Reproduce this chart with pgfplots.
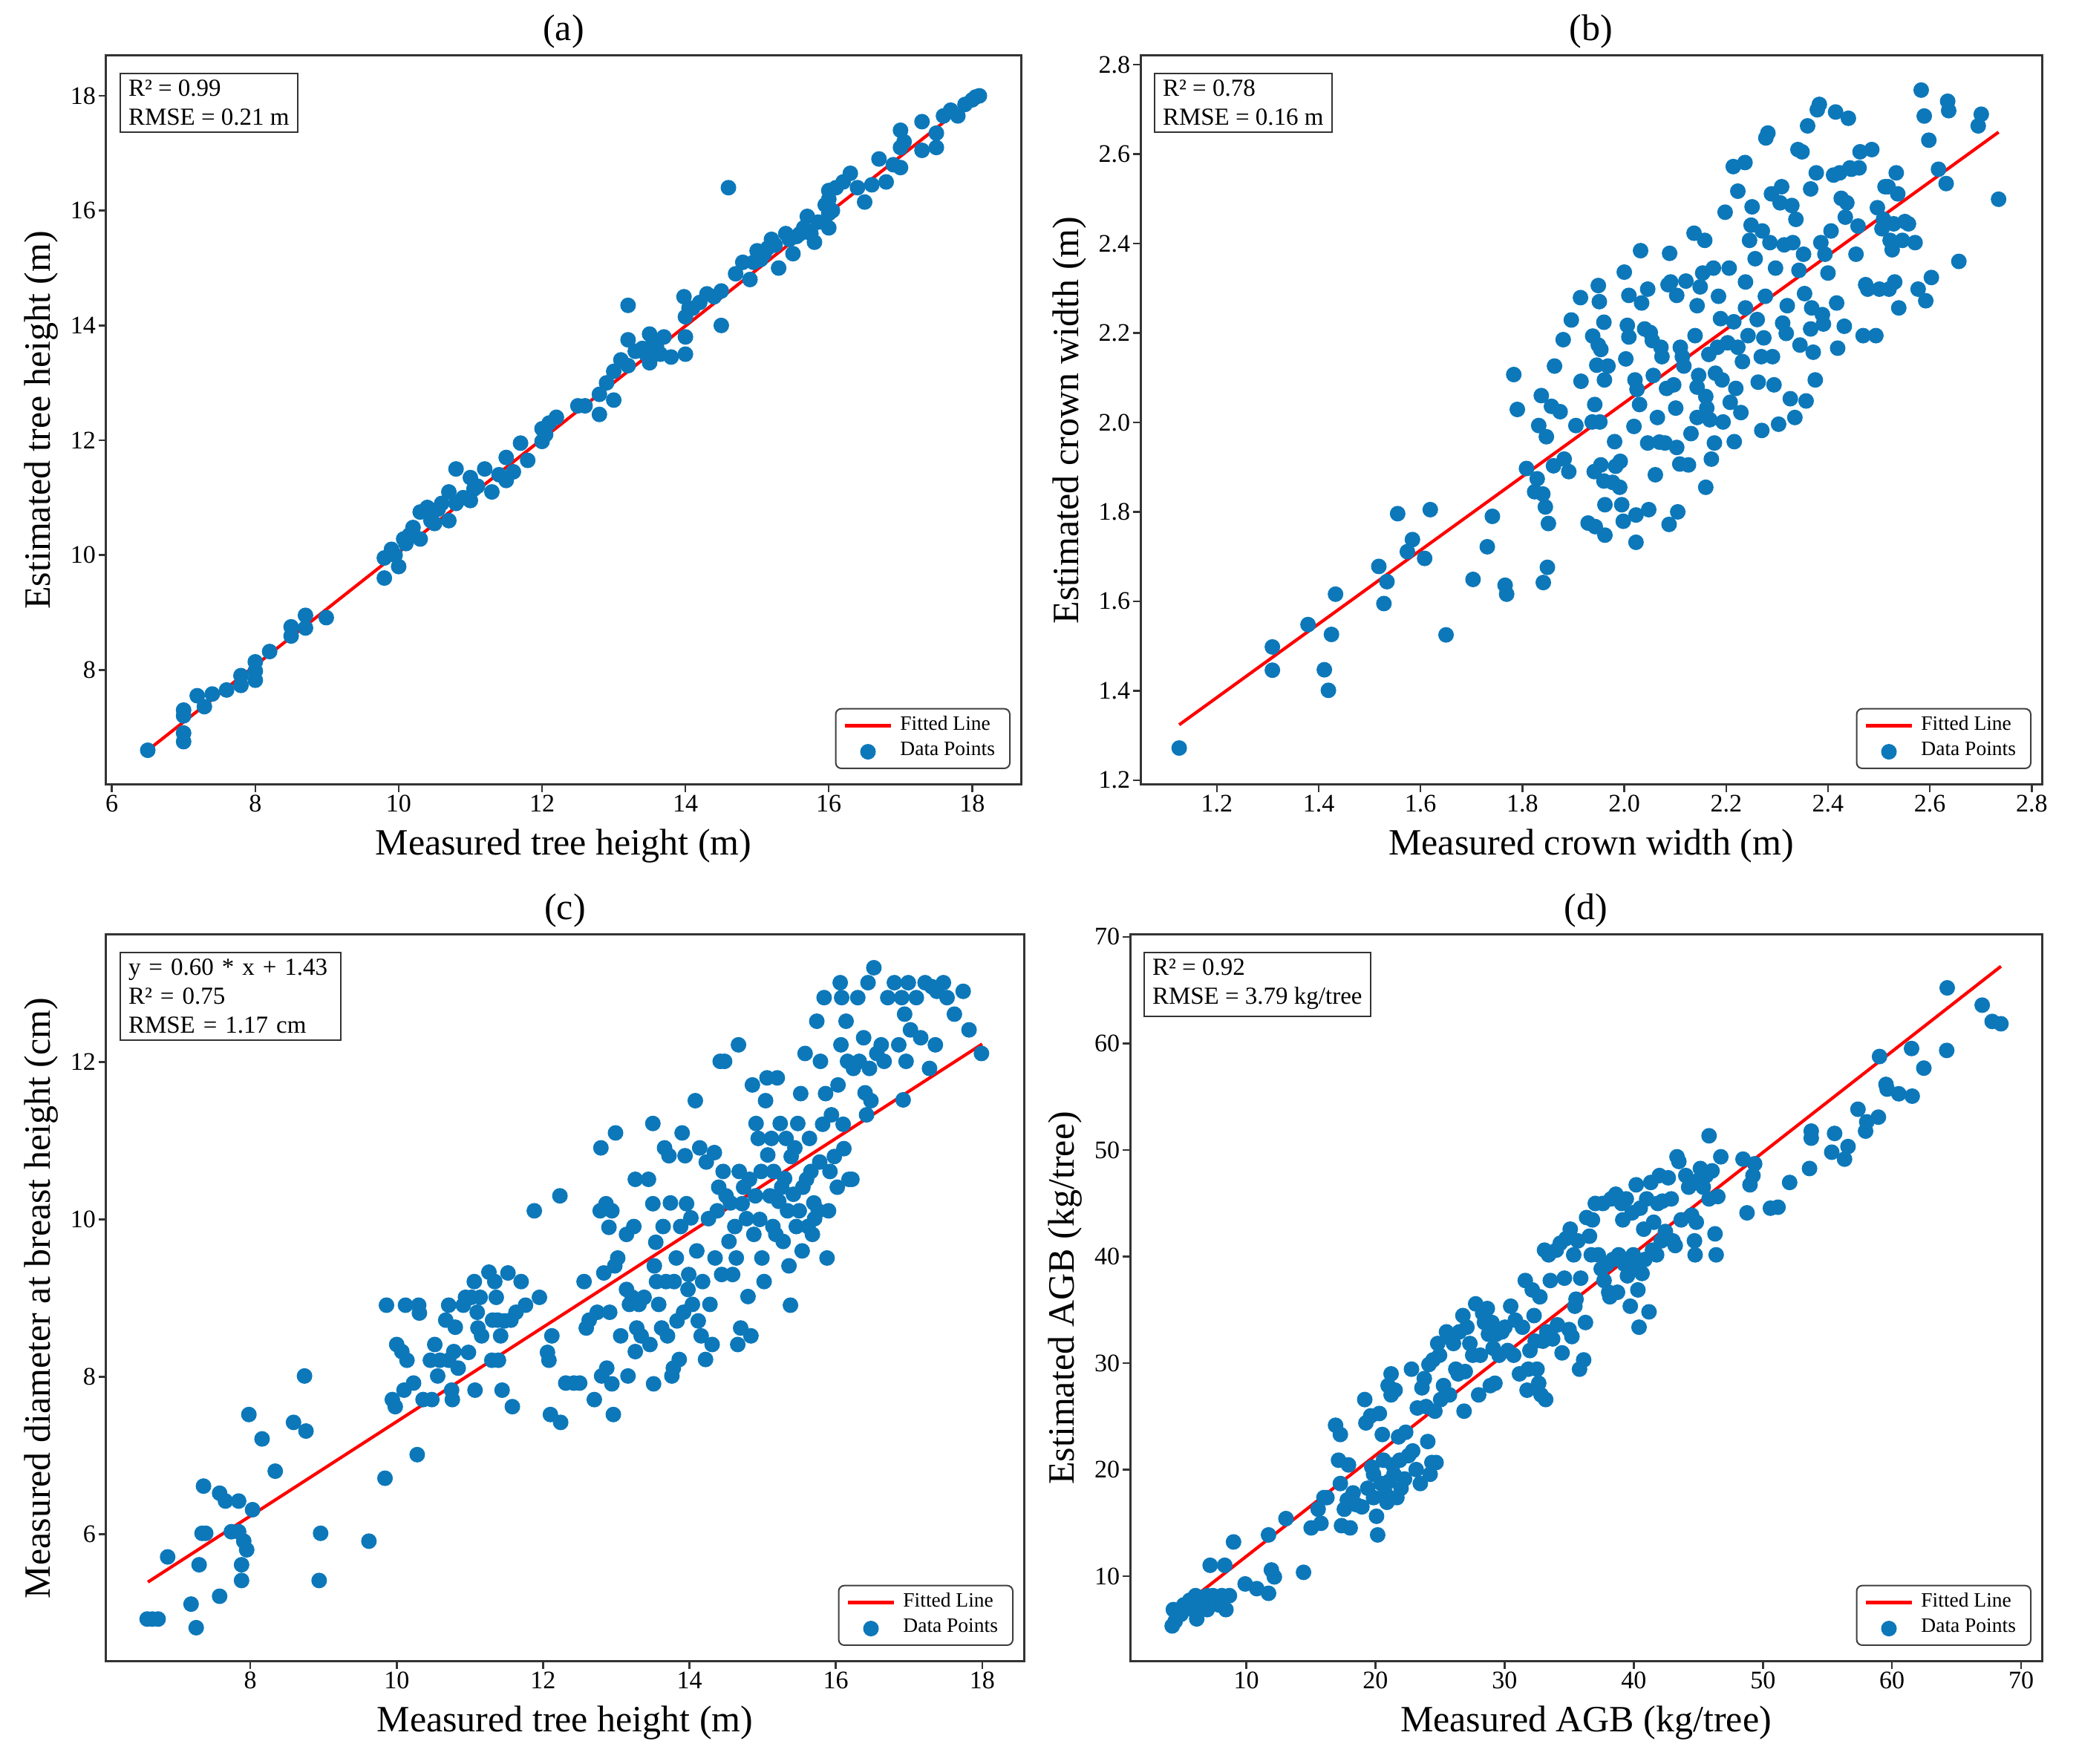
\documentclass[border=0pt]{standalone}
\usepackage{fontspec}
\setmainfont{Liberation Serif}
\usepackage{pgfplots}
\pgfplotsset{compat=1.18}
\definecolor{ptblue}{RGB}{12,120,186}
\pgfplotsset{
  panel/.style={
    scale only axis,
    axis line style={black!80, line width=0.6pt},
    tick style={black!80, line width=0.5pt},
    tick align=outside, major tick length=2pt,
    xtick pos=bottom, ytick pos=left,
    tick label style={font=\fontsize{6.8}{8}\selectfont, inner sep=0.6pt},
    /pgf/number format/assume math mode=true,
    label style={font=\fontsize{10}{12}\selectfont},
    xlabel style={yshift=-0.5pt},
    ylabel style={yshift=-0.8pt},
    every axis title/.style={font=\fontsize{10}{12}\selectfont, at={(0.5,1)}, anchor=south, inner sep=0pt, yshift=1.8pt},
    reverse legend,
    legend cell align=left,
    legend style={at={(1,0)}, anchor=south east, xshift=-2.8pt, yshift=4.2pt,
      draw=black!75, rounded corners=1.5pt, font=\fontsize{5.5}{6.5}\selectfont,
      inner xsep=2pt, inner ysep=1pt, row sep=0pt, nodes={inner ysep=0.9pt}},
  },
  pts/.style={only marks, mark=*, mark size=1.9pt, color=ptblue, mark options={draw=ptblue, fill=ptblue},
    legend image code/.code={\draw[mark repeat=2,mark phase=2,##1] plot coordinates {(0cm,0cm) (0.22cm,0cm) (0.44cm,0cm)};}},
  fit/.style={red, line width=0.85pt, no marks,
    legend image code/.code={\draw[##1] (0cm,0cm) -- (0.44cm,0cm);}},
}
\tikzset{
  infobox/.style={draw=black!80, anchor=north west, align=left, fill=white,
    font=\fontsize{6.6}{7.8}\selectfont, inner xsep=2.2pt, inner ysep=1.8pt, xshift=3.6pt, yshift=-4.6pt},
}
\begin{document}
\begin{tikzpicture}
\path[use as bounding box] (0,0) rectangle (560pt,475.2pt);
% (a)
\begin{axis}[panel, at={(28.6pt,263.8pt)}, anchor=south west, width=246.4pt, height=196.4pt,
  xmin=5.92, xmax=18.68, ymin=6.0, ymax=18.7,
  xtick={6,8,10,12,14,16,18}, ytick={8,10,12,14,16,18},
  title={(a)}, xlabel={Measured tree height (m)}, ylabel={Estimated tree height (m)}]
\addplot[pts] coordinates {(6.5,6.6)(7.0,7.3)(7.0,7.2)(7.0,6.9)(7.0,6.75)(7.19,7.55)(7.29,7.36)(7.4,7.58)(7.6,7.65)(7.8,7.9)(7.8,7.73)(8.0,8.14)(8.0,7.82)(8.0,7.98)(8.2,8.32)(8.5,8.75)(8.5,8.59)(8.7,8.95)(8.7,8.73)(8.99,8.91)(9.8,9.95)(9.8,9.6)(9.9,10.1)(10.0,9.8)(9.95,10.0)(10.07,10.28)(10.1,10.2)(10.15,10.35)(10.2,10.48)(10.3,10.75)(10.3,10.28)(10.4,10.83)(10.45,10.6)(10.5,10.55)(10.55,10.8)(10.6,10.9)(10.7,10.6)(10.7,11.1)(10.8,11.5)(10.8,10.9)(10.9,11.0)(11.0,11.35)(11.0,10.95)(11.05,11.15)(11.1,11.2)(11.2,11.5)(11.3,11.1)(11.4,11.4)(11.5,11.7)(11.5,11.3)(11.6,11.45)(11.7,11.95)(11.8,11.65)(12.0,11.98)(12.0,12.2)(12.05,12.1)(12.1,12.3)(12.2,12.4)(12.5,12.6)(12.6,12.6)(12.8,12.45)(12.8,12.8)(12.9,13.0)(13.0,13.2)(13.0,12.7)(13.1,13.4)(13.2,14.35)(13.2,13.75)(13.2,13.3)(13.3,13.55)(13.4,13.6)(13.45,13.5)(13.5,13.85)(13.5,13.35)(13.55,13.75)(13.6,13.6)(13.65,13.5)(13.7,13.8)(13.8,13.45)(13.98,14.5)(14.0,14.15)(14.0,13.8)(14.0,13.5)(14.05,14.3)(14.1,14.3)(14.2,14.4)(14.3,14.55)(14.4,14.5)(14.5,14.0)(14.5,14.6)(14.6,16.4)(14.7,14.9)(14.8,15.1)(14.9,14.8)(14.95,15.1)(15.0,15.3)(15.05,15.15)(15.1,15.25)(15.15,15.35)(15.2,15.5)(15.25,15.4)(15.3,15.0)(15.4,15.6)(15.45,15.5)(15.5,15.25)(15.55,15.55)(15.6,15.6)(15.65,15.7)(15.7,15.9)(15.75,15.6)(15.8,15.45)(15.85,15.8)(15.95,16.1)(16.0,16.35)(16.0,16.2)(16.0,15.95)(16.0,15.7)(16.05,16.0)(16.1,16.4)(16.2,16.5)(16.3,16.65)(16.4,16.4)(16.5,16.15)(16.6,16.45)(16.7,16.9)(16.8,16.5)(16.9,16.8)(17.0,17.4)(17.0,17.1)(17.0,16.75)(17.05,17.2)(17.3,17.55)(17.3,17.05)(17.5,17.35)(17.5,17.1)(17.6,17.65)(17.7,17.75)(17.8,17.65)(17.9,17.85)(18.0,17.93)(18.05,17.98)(18.1,18.0)};
\addlegendentry{Data Points}
\addplot[fit] coordinates {(6.5,6.6)(18.1,18.03)};
\addlegendentry{Fitted Line}
\node[infobox] at (rel axis cs:0,1) {R² = 0.99\\RMSE = 0.21 m};
\end{axis}
% (b)
\begin{axis}[panel, at={(307.2pt,263.8pt)}, anchor=south west, width=242.8pt, height=196.4pt,
  xmin=1.05, xmax=2.82, ymin=1.19, ymax=2.82,
  xtick={1.2,1.4,1.6,1.8,2.0,2.2,2.4,2.6,2.8}, ytick={1.2,1.4,1.6,1.8,2.0,2.2,2.4,2.6,2.8},
  xticklabel style={/pgf/number format/.cd, fixed, fixed zerofill, precision=1},
  yticklabel style={/pgf/number format/.cd, fixed, fixed zerofill, precision=1},
  title={(b)}, xlabel={Measured crown width (m)}, ylabel={Estimated crown width (m)}]
\addplot[pts] coordinates {(1.126,1.272)(1.309,1.498)(1.309,1.446)(1.379,1.548)(1.411,1.447)(1.419,1.401)(1.425,1.526)(1.433,1.616)(1.518,1.678)(1.528,1.595)(1.534,1.644)(1.555,1.796)(1.574,1.711)(1.584,1.738)(1.608,1.696)(1.619,1.805)(1.650,1.525)(1.703,1.649)(1.731,1.722)(1.741,1.790)(1.766,1.636)(1.769,1.616)(1.783,2.107)(1.790,2.029)(1.808,1.897)(1.829,1.874)(1.824,1.845)(1.840,1.840)(1.845,1.811)(1.841,1.642)(1.849,1.676)(1.851,1.774)(1.832,1.993)(1.837,2.060)(1.847,1.968)(1.857,2.036)(1.863,2.126)(1.861,1.903)(1.874,2.024)(1.880,2.185)(1.882,1.918)(1.891,1.890)(1.896,2.229)(1.905,1.993)(1.914,2.279)(1.915,2.092)(1.929,1.775)(1.943,1.767)(1.941,1.890)(1.942,2.040)(1.949,2.306)(1.951,2.270)(1.954,1.905)(1.960,2.224)(1.962,1.748)(1.962,1.816)(1.961,2.095)(1.938,2.193)(1.949,2.173)(1.954,2.163)(1.946,2.128)(1.937,2.001)(1.952,2.001)(1.960,1.869)(1.968,2.126)(1.977,1.866)(1.981,1.957)(1.983,1.902)(1.991,1.855)(1.992,1.913)(1.998,1.779)(1.995,1.816)(2.000,2.336)(2.003,2.142)(2.009,2.191)(2.009,2.284)(2.006,2.217)(2.019,1.991)(2.023,1.732)(2.023,1.793)(2.021,2.095)(2.025,2.074)(2.030,2.040)(2.032,2.384)(2.034,2.267)(2.040,2.209)(2.046,2.298)(2.046,1.954)(2.048,1.805)(2.051,2.201)(2.055,2.183)(2.057,2.105)(2.061,1.883)(2.065,2.011)(2.069,1.956)(2.072,2.168)(2.074,2.147)(2.080,1.954)(2.083,2.076)(2.086,2.308)(2.088,1.772)(2.089,2.378)(2.091,2.314)(2.097,2.084)(2.101,2.032)(2.103,1.944)(2.103,2.284)(2.105,1.800)(2.109,1.907)(2.110,2.168)(2.114,2.147)(2.117,2.126)(2.121,2.316)(2.126,1.905)(2.131,1.975)(2.137,2.423)(2.139,2.194)(2.143,2.261)(2.143,2.079)(2.143,2.011)(2.146,2.105)(2.149,2.303)(2.154,2.334)(2.158,2.407)(2.160,1.855)(2.160,2.058)(2.162,2.032)(2.166,2.152)(2.168,2.006)(2.171,1.918)(2.175,2.345)(2.177,1.954)(2.179,2.110)(2.183,2.168)(2.185,2.282)(2.189,2.232)(2.192,2.095)(2.194,2.001)(2.198,2.470)(2.203,2.178)(2.206,2.345)(2.208,2.045)(2.214,2.572)(2.216,1.957)(2.215,2.225)(2.219,2.076)(2.223,2.517)(2.223,2.168)(2.229,2.022)(2.232,2.136)(2.237,2.581)(2.238,2.314)(2.238,2.256)(2.243,2.194)(2.246,2.407)(2.249,2.441)(2.251,2.482)(2.257,2.366)(2.261,2.230)(2.263,2.090)(2.269,2.147)(2.270,1.982)(2.271,2.428)(2.274,2.189)(2.277,2.282)(2.278,2.636)(2.282,2.647)(2.286,2.402)(2.289,2.511)(2.291,2.147)(2.294,2.084)(2.297,2.345)(2.303,1.996)(2.306,2.491)(2.309,2.527)(2.311,2.222)(2.314,2.397)(2.318,2.199)(2.320,2.261)(2.326,2.053)(2.329,2.485)(2.331,2.402)(2.335,2.011)(2.337,2.454)(2.341,2.610)(2.343,2.340)(2.345,2.173)(2.349,2.605)(2.352,2.376)(2.354,2.288)(2.357,2.048)(2.360,2.663)(2.366,2.522)(2.366,2.209)(2.368,2.256)(2.371,2.157)(2.375,2.095)(2.377,2.558)(2.379,2.699)(2.383,2.711)(2.386,2.402)(2.389,2.241)(2.391,2.220)(2.394,2.376)(2.400,2.334)(2.406,2.428)(2.411,2.553)(2.415,2.694)(2.417,2.267)(2.419,2.166)(2.423,2.558)(2.426,2.501)(2.432,2.215)(2.434,2.459)(2.437,2.491)(2.440,2.680)(2.443,2.569)(2.446,2.566)(2.455,2.376)(2.459,2.439)(2.461,2.569)(2.463,2.605)(2.469,2.194)(2.474,2.308)(2.478,2.298)(2.486,2.610)(2.494,2.194)(2.497,2.480)(2.501,2.298)(2.506,2.433)(2.509,2.454)(2.512,2.527)(2.518,2.527)(2.520,2.298)(2.522,2.407)(2.526,2.386)(2.529,2.444)(2.531,2.314)(2.534,2.558)(2.537,2.511)(2.539,2.256)(2.546,2.407)(2.551,2.449)(2.558,2.444)(2.571,2.402)(2.577,2.298)(2.583,2.743)(2.589,2.685)(2.592,2.272)(2.598,2.631)(2.603,2.324)(2.617,2.566)(2.632,2.534)(2.635,2.718)(2.637,2.697)(2.657,2.360)(2.695,2.663)(2.701,2.689)(2.735,2.499)};
\addlegendentry{Data Points}
\addplot[fit] coordinates {(1.126,1.324)(2.735,2.649)};
\addlegendentry{Fitted Line}
\node[infobox] at (rel axis cs:0,1) {R² = 0.78\\RMSE = 0.16 m};
\end{axis}
% (c)
\begin{axis}[panel, at={(28.6pt,27.6pt)}, anchor=south west, width=247.2pt, height=195.8pt,
  xmin=6.03, xmax=18.57, ymin=4.38, ymax=13.62,
  xtick={8,10,12,14,16,18}, ytick={6,8,10,12},
  title={(c)}, xlabel={Measured tree height (m)}, ylabel={Measured diameter at breast height (cm)}]
\addplot[pts] coordinates {(6.59,4.92)(6.66,4.92)(6.74,4.92)(6.87,5.71)(7.19,5.11)(7.26,4.81)(7.30,5.61)(7.34,6.01)(7.36,6.61)(7.39,6.01)(7.58,6.52)(7.58,5.21)(7.66,6.42)(7.74,6.03)(7.84,6.42)(7.84,6.03)(7.88,5.61)(7.88,5.41)(7.91,5.91)(7.95,5.80)(7.98,7.52)(8.03,6.31)(8.16,7.21)(8.34,6.80)(8.59,7.42)(8.74,8.01)(8.76,7.31)(8.94,5.41)(8.96,6.01)(9.62,5.91)(9.84,6.71)(9.86,8.91)(9.94,7.71)(9.98,7.62)(10.0,8.41)(10.07,8.32)(10.10,7.83)(10.12,8.91)(10.14,8.21)(10.23,7.92)(10.28,7.01)(10.30,8.91)(10.31,8.81)(10.36,7.71)(10.46,8.21)(10.48,7.71)(10.52,8.41)(10.56,8.01)(10.59,8.21)(10.67,8.72)(10.71,8.91)(10.71,8.21)(10.75,7.83)(10.76,7.71)(10.78,8.32)(10.80,8.63)(10.84,8.11)(10.91,8.91)(10.94,9.01)(10.98,8.31)(11.02,9.01)(11.06,9.21)(11.07,7.83)(11.10,8.82)(11.11,8.62)(11.14,9.01)(11.16,8.52)(11.26,9.33)(11.30,8.21)(11.31,8.72)(11.34,9.21)(11.36,9.01)(11.38,8.72)(11.39,8.21)(11.42,8.52)(11.44,7.83)(11.47,8.71)(11.52,9.32)(11.56,8.72)(11.58,7.62)(11.63,8.82)(11.70,9.21)(11.76,8.91)(11.88,10.11)(11.95,9.01)(12.06,8.31)(12.08,8.21)(12.10,7.52)(12.12,8.52)(12.23,10.30)(12.24,7.42)(12.31,7.92)(12.42,7.92)(12.50,7.92)(12.56,9.21)(12.59,8.62)(12.63,8.72)(12.70,7.71)(12.74,8.82)(12.78,10.11)(12.79,10.91)(12.80,8.01)(12.83,9.32)(12.86,10.20)(12.87,8.11)(12.90,9.90)(12.91,8.82)(12.94,7.91)(12.94,10.11)(12.96,7.52)(12.98,9.41)(12.99,11.10)(13.02,9.51)(13.06,8.52)(13.14,9.81)(13.14,9.11)(13.16,8.01)(13.18,8.92)(13.22,9.01)(13.24,9.91)(13.26,8.32)(13.26,10.51)(13.28,8.62)(13.31,8.92)(13.34,8.52)(13.38,9.01)(13.44,10.51)(13.46,8.41)(13.50,10.20)(13.50,11.22)(13.51,7.91)(13.52,9.41)(13.54,9.71)(13.55,9.21)(13.58,8.92)(13.62,8.62)(13.64,9.91)(13.66,10.91)(13.68,9.21)(13.70,8.52)(13.72,10.81)(13.74,10.21)(13.76,8.01)(13.78,8.11)(13.79,9.21)(13.82,9.51)(13.83,8.71)(13.86,8.22)(13.88,9.91)(13.90,11.10)(13.92,8.82)(13.94,10.81)(13.96,10.20)(13.98,9.11)(13.99,9.30)(14.02,10.02)(14.04,8.92)(14.08,11.51)(14.10,9.60)(14.12,8.71)(14.14,10.91)(14.16,8.52)(14.18,9.21)(14.22,8.22)(14.23,10.73)(14.26,10.01)(14.28,8.92)(14.31,8.41)(14.34,10.85)(14.35,9.51)(14.38,10.11)(14.40,10.41)(14.42,12.01)(14.44,9.30)(14.46,10.61)(14.48,12.01)(14.50,10.30)(14.54,9.72)(14.56,10.21)(14.59,9.30)(14.62,9.91)(14.64,9.51)(14.66,8.41)(14.67,12.22)(14.68,10.61)(14.70,8.62)(14.72,10.20)(14.74,10.41)(14.78,10.01)(14.80,9.02)(14.82,10.51)(14.84,8.52)(14.86,11.71)(14.88,9.81)(14.90,10.30)(14.91,11.22)(14.94,11.03)(14.96,10.00)(14.98,10.61)(14.99,9.51)(15.02,9.21)(15.04,11.51)(15.06,11.80)(15.07,10.82)(15.10,10.30)(15.12,11.03)(15.14,9.91)(15.15,10.61)(15.18,9.81)(15.20,11.80)(15.22,10.23)(15.24,11.22)(15.26,10.41)(15.28,9.72)(15.30,10.52)(15.32,11.03)(15.34,10.11)(15.36,9.41)(15.38,8.91)(15.39,10.80)(15.42,10.32)(15.44,10.91)(15.46,9.91)(15.48,11.22)(15.50,10.11)(15.52,11.60)(15.54,9.60)(15.55,10.41)(15.58,12.11)(15.60,10.51)(15.62,9.91)(15.64,11.03)(15.66,10.61)(15.68,9.81)(15.70,10.21)(15.71,10.01)(15.74,12.52)(15.76,10.11)(15.78,10.73)(15.79,12.01)(15.82,11.21)(15.84,12.82)(15.86,11.60)(15.88,9.51)(15.90,10.11)(15.92,10.61)(15.94,11.33)(15.98,10.80)(16.02,10.41)(16.03,11.71)(16.06,13.01)(16.07,12.22)(16.08,12.82)(16.10,11.21)(16.11,10.90)(16.14,12.52)(16.16,12.01)(16.18,10.51)(16.22,10.51)(16.24,11.92)(16.30,12.82)(16.32,12.01)(16.38,12.31)(16.40,11.61)(16.42,11.33)(16.44,13.01)(16.46,11.92)(16.48,11.51)(16.52,13.20)(16.56,12.11)(16.62,12.22)(16.66,12.01)(16.71,12.82)(16.80,13.01)(16.86,12.22)(16.90,12.82)(16.92,11.52)(16.94,12.61)(16.96,12.01)(16.99,13.01)(17.02,12.41)(17.10,12.82)(17.16,12.31)(17.22,13.01)(17.28,11.92)(17.31,12.96)(17.36,12.22)(17.38,12.90)(17.47,13.01)(17.52,12.82)(17.62,12.61)(17.74,12.90)(17.82,12.41)(17.99,12.11)};
\addlegendentry{Data Points}
\addplot[fit] coordinates {(6.6,5.39)(18.0,12.23)};
\addlegendentry{Fitted Line}
\node[infobox, text width=55pt] at (rel axis cs:0,1) {y = 0.60 * x + 1.43\\R² = 0.75\\RMSE = 1.17 cm};
\end{axis}
% (d)
\begin{axis}[panel, at={(304.4pt,27.6pt)}, anchor=south west, width=245.6pt, height=195.8pt,
  xmin=1.0, xmax=71.6, ymin=2.0, ymax=70.2,
  xtick={10,20,30,40,50,60,70}, ytick={10,20,30,40,50,60,70},
  title={(d)}, xlabel={Measured AGB (kg/tree)}, ylabel={Estimated AGB (kg/tree)}]
\addplot[pts] coordinates {(4.26,5.34)(4.49,5.78)(4.35,6.87)(4.94,6.43)(5.16,7.31)(5.62,7.75)(5.84,6.87)(6.16,6.0)(6.07,8.18)(6.52,7.31)(6.97,8.18)(6.97,6.87)(7.20,11.03)(7.42,8.18)(7.88,7.31)(8.10,8.18)(8.33,11.03)(8.42,6.87)(8.69,8.18)(9.01,13.22)(9.91,9.28)(10.81,8.84)(11.72,13.88)(11.72,8.40)(11.94,10.59)(12.17,9.94)(13.07,15.41)(14.43,10.37)(15.02,14.54)(15.56,16.29)(15.78,14.97)(16.01,17.38)(16.24,17.38)(16.91,24.17)(17.28,23.30)(17.14,20.89)(17.28,18.70)(17.37,14.75)(17.59,16.29)(17.82,17.16)(17.91,20.45)(18.04,14.54)(18.27,17.82)(18.50,16.73)(18.95,16.51)(19.17,26.58)(19.40,18.26)(19.26,24.39)(19.63,25.05)(19.72,20.23)(19.85,19.57)(19.85,17.38)(20.08,15.63)(20.17,13.88)(20.30,25.27)(20.44,18.70)(20.53,23.30)(20.62,20.89)(20.76,17.82)(20.89,16.94)(20.98,27.89)(21.07,18.92)(21.21,28.99)(21.21,27.02)(21.34,20.45)(21.43,19.57)(21.52,27.46)(21.66,17.38)(21.79,23.08)(21.88,20.89)(21.98,18.26)(22.25,19.13)(22.34,23.51)(22.56,21.32)(22.79,29.43)(22.88,21.76)(23.15,20.01)(23.24,25.79)(23.47,18.70)(23.60,27.68)(23.78,28.55)(23.92,25.92)(24.05,22.64)(24.14,29.87)(24.23,19.57)(24.37,20.67)(24.46,30.30)(24.60,25.49)(24.69,20.67)(24.82,31.84)(24.96,30.74)(25.05,26.58)(25.27,27.89)(25.50,32.93)(25.73,27.02)(25.86,32.27)(26.04,31.84)(26.22,29.43)(26.40,28.99)(26.49,32.93)(26.77,34.46)(26.86,25.49)(26.95,29.21)(27.08,33.37)(27.31,31.84)(27.53,30.74)(27.76,35.56)(27.99,27.02)(28.12,30.74)(28.30,34.68)(28.44,33.81)(28.66,35.12)(28.75,32.71)(28.89,27.89)(29.02,33.81)(29.11,31.40)(29.25,28.11)(29.34,32.71)(29.57,30.74)(29.79,32.93)(30.02,33.37)(30.24,31.18)(30.47,35.34)(30.70,30.74)(30.83,34.03)(31.15,28.99)(31.38,33.37)(31.60,37.75)(31.74,27.46)(31.83,29.43)(31.96,31.18)(32.14,36.87)(32.28,34.46)(32.37,32.06)(32.51,29.43)(32.64,28.11)(32.73,36.22)(32.82,27.02)(32.96,32.06)(33.09,40.60)(33.18,26.58)(33.27,32.93)(33.41,40.16)(33.54,37.75)(33.72,32.27)(34.00,40.60)(34.09,33.59)(34.31,41.25)(34.45,30.96)(34.63,37.97)(34.76,41.69)(34.99,33.15)(35.08,42.57)(35.21,32.49)(35.35,40.16)(35.44,35.34)(35.53,36.0)(35.67,41.47)(35.80,29.43)(35.89,37.97)(36.12,30.30)(36.26,33.81)(36.35,43.66)(36.57,41.91)(36.71,40.16)(36.80,43.44)(37.02,44.98)(37.25,40.16)(37.48,38.84)(37.61,44.98)(37.70,37.75)(37.93,39.28)(38.06,36.65)(38.15,36.22)(38.24,45.41)(38.38,39.72)(38.61,45.85)(38.74,36.65)(38.83,40.16)(39.06,44.98)(39.15,43.44)(39.28,39.28)(39.42,45.41)(39.51,38.19)(39.73,35.34)(39.87,44.10)(39.96,40.16)(40.05,39.28)(40.19,46.73)(40.32,36.87)(40.41,33.37)(40.50,44.54)(40.64,38.41)(40.77,42.57)(40.86,39.72)(41.00,45.41)(41.18,34.81)(41.32,46.95)(41.45,40.60)(41.54,43.22)(41.77,40.16)(41.86,44.98)(41.99,47.60)(42.13,41.47)(42.22,45.20)(42.45,42.35)(42.67,47.39)(42.90,45.41)(43.03,41.47)(43.21,41.03)(43.35,49.36)(43.49,48.92)(43.67,43.44)(44.03,47.60)(44.25,46.51)(44.48,43.88)(44.70,41.47)(44.75,40.16)(44.84,43.22)(45.02,47.17)(45.16,48.26)(45.38,46.51)(45.61,47.60)(45.83,45.41)(45.83,51.33)(46.06,48.04)(46.29,42.13)(46.38,40.16)(46.51,45.63)(46.74,49.36)(48.46,49.14)(48.77,44.10)(49.0,46.73)(49.23,47.60)(49.36,48.70)(50.58,44.54)(51.17,44.63)(52.07,46.95)(53.61,48.26)(53.74,51.77)(53.74,51.11)(55.33,49.79)(55.55,51.55)(56.32,49.14)(56.59,50.32)(57.36,53.82)(57.95,51.77)(58.04,52.64)(58.94,53.08)(59.03,58.77)(59.53,56.15)(59.62,55.71)(60.52,55.27)(61.51,59.52)(61.56,55.05)(62.46,57.68)(64.23,59.34)(64.27,65.21)(66.98,63.59)(67.75,62.06)(68.43,61.84)};
\addlegendentry{Data Points}
\addplot[fit] coordinates {(4.26,6.43)(68.43,67.23)};
\addlegendentry{Fitted Line}
\node[infobox] at (rel axis cs:0,1) {R² = 0.92\\RMSE = 3.79 kg/tree};
\end{axis}
\end{tikzpicture}
\end{document}
